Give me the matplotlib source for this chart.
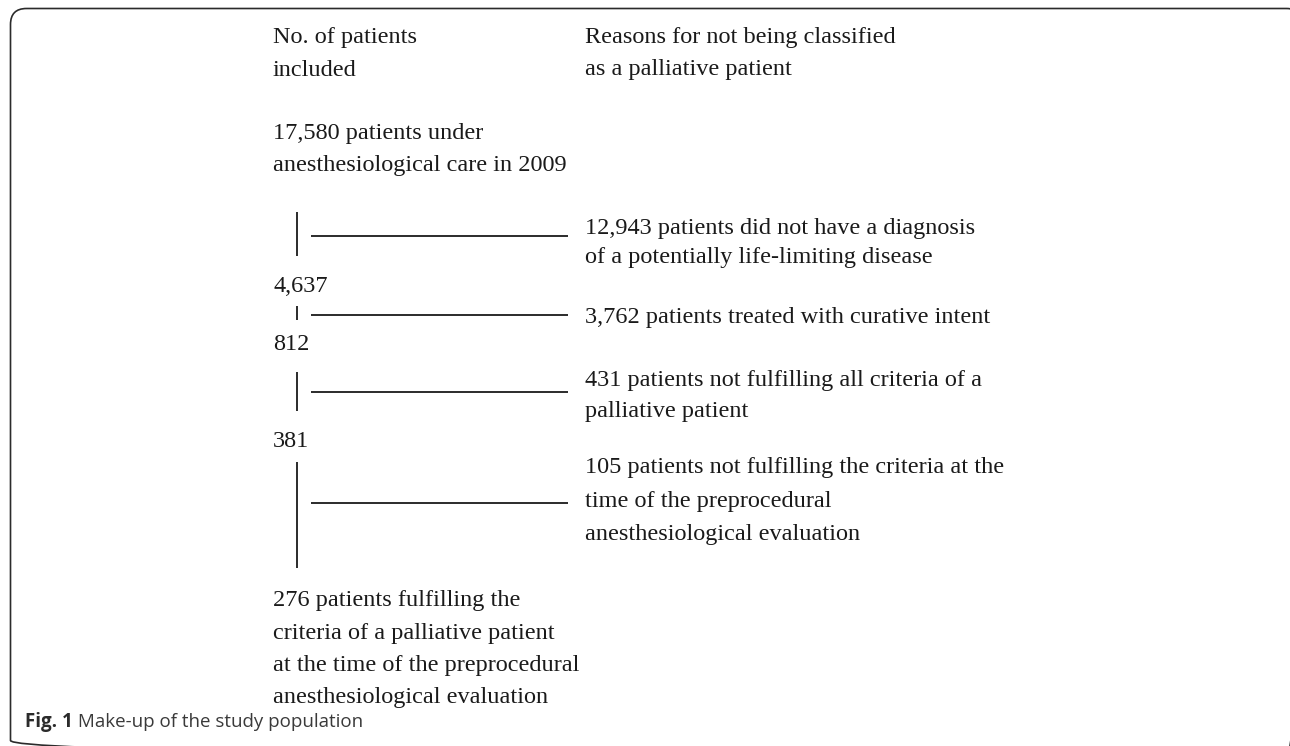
import matplotlib.pyplot as plt
from matplotlib.patches import FancyBboxPatch

# Flow of patients: counts kept at each step, and reasons for dropping out
headers = ["No. of patients\nincluded",
           "Reasons for not being classified\nas a palliative patient"]
included = ["17,580 patients under\nanesthesiological care in 2009",
            "4,637",
            "812",
            "381",
            "276 patients fulfilling the\ncriteria of a palliative patient\n"
            "at the time of the preprocedural\nanesthesiological evaluation"]
excluded = ["12,943 patients did not have a diagnosis\nof a potentially life-limiting disease",
            "3,762 patients treated with curative intent",
            "431 patients not fulfilling all criteria of a\npalliative patient",
            "105 patients not fulfilling the criteria at the\ntime of the preprocedural\n"
            "anesthesiological evaluation"]
caption_bold = "Fig. 1"
caption_text = " Make-up of the study population"

# layout (pixel coordinates, y down)
W, H = 1290, 746
x_left, x_right = 273, 585
line_gap = 32.5
header_y = 43
included_y = [139, 292, 350, 447, 606]
excluded_y = [234, 323, 386, 473]
excluded_gap = [29, 32.5, 31, 33.5]
branch_y = [236, 315, 392, 503]
stem_spans = [(212, 256), (306, 320), (372, 411), (462, 568)]
stem_x = 297
branch_x = (311, 568)

FONT = ['Liberation Serif', 'DejaVu Serif']
FS = 17.5
INK = '#1a1a1a'

fig = plt.figure(figsize=(W / 100, H / 100), dpi=100)
ax = fig.add_axes([0, 0, 1, 1])
ax.set_xlim(0, W)
ax.set_ylim(H, 0)
ax.axis('off')


def put_block(x, y0, text, gap=line_gap):
    for i, line in enumerate(text.split('\n')):
        ax.text(x, y0 + i * gap, line, family=FONT, fontsize=FS,
                color=INK, va='baseline', ha='left')


put_block(x_left, header_y, headers[0])
put_block(x_right, header_y, headers[1])
for txt, y in zip(included, included_y):
    put_block(x_left, y, txt)
for txt, y, g in zip(excluded, excluded_y, excluded_gap):
    put_block(x_right, y, txt, g)

for y0, y1 in stem_spans:
    ax.plot([stem_x, stem_x], [y0, y1], color=INK, lw=1.3, solid_capstyle='butt')
for y in branch_y:
    ax.plot(branch_x, [y, y], color=INK, lw=1.3, solid_capstyle='butt')

# frame with rounded corners (right and bottom edges run off the picture)
frame = FancyBboxPatch((10.5, 8.5), 1292, 748,
                       boxstyle='round,pad=0,rounding_size=16',
                       fill=False, ec='#2b2b2b', lw=1.2)
ax.add_patch(frame)

# caption
t = ax.text(25, 727, caption_bold, family='Open Sans', fontsize=13.5,
            fontweight='bold', color='#2b2b2b', va='baseline')
fig.canvas.draw()
bb = t.get_window_extent()
x_end = ax.transData.inverted().transform((bb.x1, bb.y0))[0]
ax.text(x_end, 727, caption_text, family='Open Sans', fontsize=13.5,
        color='#3a3a3a', va='baseline')

fig.savefig('out.png', dpi=100, facecolor='white')
